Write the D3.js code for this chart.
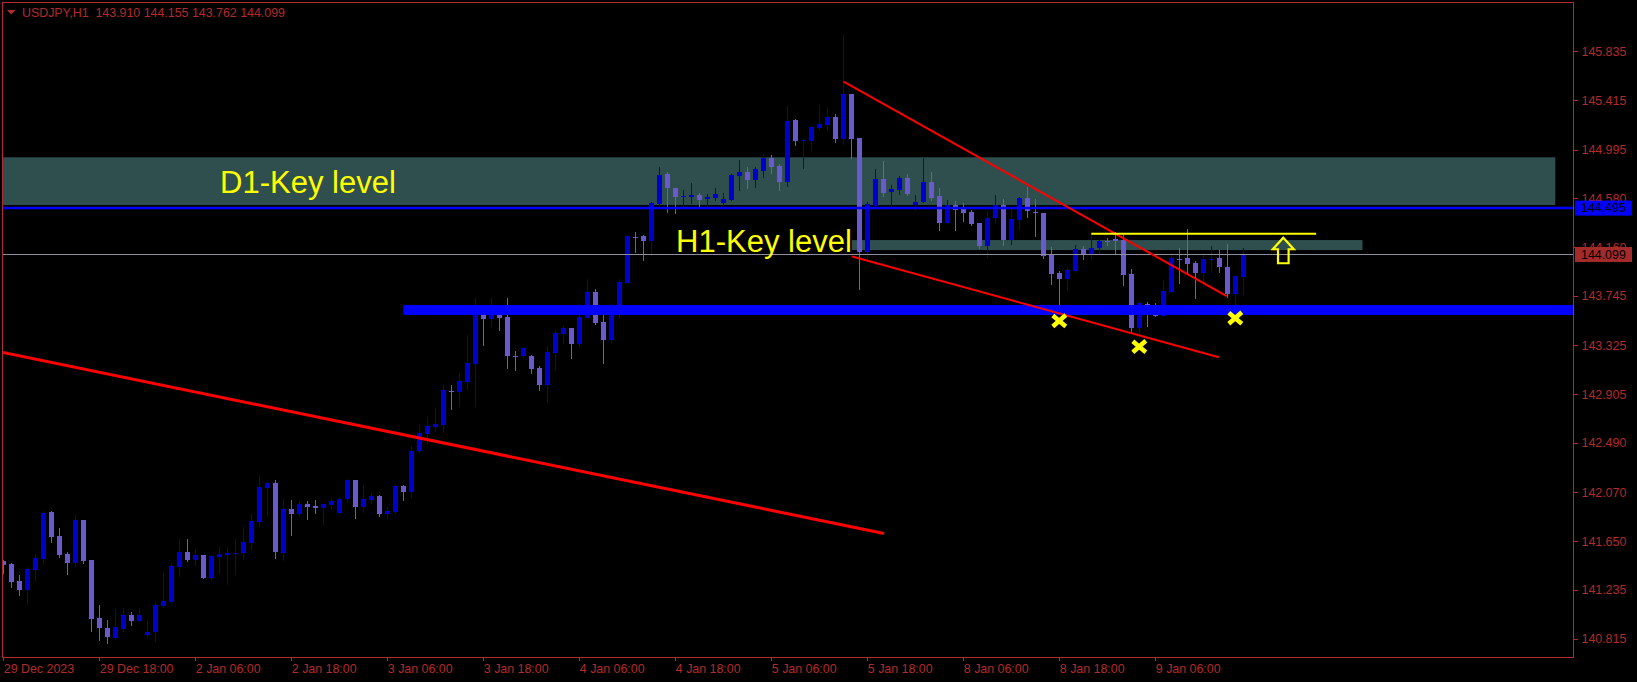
<!DOCTYPE html>
<html><head><meta charset="utf-8">
<script src="https://cdn.jsdelivr.net/npm/d3@7"></script>
<style>html,body{margin:0;padding:0;background:#000;overflow:hidden}</style>
</head><body><svg id="c" width="1637" height="682"></svg>
<script>
// ---- DATA (USDJPY H1, bars 29 Dec 2023 06:00 .. 9 Jan 2024 17:00) ----
const openV=[141.481,141.455,141.310,141.233,141.407,141.498,141.900,141.695,141.541,141.464,
141.831,141.490,140.994,140.909,140.823,140.900,141.020,140.969,140.849,140.875,
141.097,141.131,141.430,141.558,141.490,141.532,141.336,141.515,141.532,141.546,
141.549,141.635,141.814,142.104,142.147,141.549,141.925,141.882,141.968,141.951,
141.934,141.959,141.891,142.010,142.173,141.942,142.002,142.036,141.882,141.900,
142.122,142.070,142.420,142.568,142.625,142.643,142.933,142.927,143.010,143.164,
143.599,143.548,143.608,143.565,143.236,143.232,143.232,143.129,142.984,143.257,
143.420,143.471,143.334,143.556,143.778,143.522,143.368,143.582,143.858,144.252,
144.257,144.216,144.530,144.786,144.667,144.598,144.592,144.609,144.575,144.584,
144.541,144.564,144.771,144.803,144.737,144.814,144.923,144.854,144.718,145.247,
145.076,145.068,145.179,145.205,145.273,145.085,145.469,145.094,144.123,144.516,
144.743,144.630,144.649,144.752,144.524,144.547,144.718,144.598,144.368,144.521,
144.487,144.462,144.368,144.171,144.413,144.521,144.222,144.393,144.581,144.462,
144.453,144.094,143.941,143.889,143.958,144.146,144.094,144.154,144.210,144.231,
144.222,143.932,143.471,143.676,143.625,143.573,143.778,144.063,144.069,144.026,
143.941,144.058,144.069,143.992,143.761,143.910];
const highV=[141.490,141.467,141.362,141.432,141.541,141.908,141.908,141.763,141.558,141.874,
141.831,141.490,141.105,140.977,141.071,141.080,141.046,141.080,140.969,141.131,
141.379,141.455,141.669,141.669,141.584,141.532,141.532,141.601,141.592,141.669,
141.771,141.882,142.207,142.156,142.173,142.010,142.002,141.993,141.993,142.002,
141.968,142.019,142.028,142.181,142.173,142.130,142.062,142.045,141.942,142.130,
142.130,142.463,142.643,142.711,142.788,142.984,142.984,143.087,143.411,143.727,
143.599,143.727,143.667,143.727,143.275,143.300,143.240,143.146,143.317,143.454,
143.488,143.471,143.582,143.889,143.804,143.582,143.633,143.889,144.265,144.293,
144.265,144.549,144.846,144.803,144.667,144.649,144.709,144.626,144.618,144.667,
144.624,144.786,144.906,144.846,144.846,144.957,144.948,144.871,145.367,145.256,
145.085,145.196,145.375,145.350,145.299,145.973,145.469,145.094,144.547,144.829,
144.897,144.692,144.769,144.786,144.607,144.923,144.803,144.667,144.564,144.556,
144.538,144.479,144.368,144.470,144.607,144.573,144.487,144.590,144.675,144.573,
144.453,144.163,143.958,143.992,144.180,144.171,144.274,144.231,144.240,144.291,
144.265,143.975,143.701,143.693,143.684,143.881,144.103,144.154,144.316,144.043,
144.094,144.171,144.137,144.188,143.915,144.155];
const lowV=[141.379,141.259,141.191,141.122,141.319,141.467,141.646,141.518,141.370,141.441,
141.464,140.883,140.806,140.781,140.823,140.883,140.934,140.969,140.832,140.798,
141.088,141.131,141.353,141.481,141.447,141.336,141.328,141.379,141.285,141.370,
141.498,141.584,141.780,141.874,141.507,141.490,141.703,141.874,141.840,141.891,
141.797,141.934,141.891,141.993,141.848,141.900,141.976,141.865,141.848,141.891,
142.002,142.028,142.412,142.489,142.591,142.583,142.779,142.807,142.950,142.807,
143.326,143.488,143.454,143.129,143.112,143.223,143.087,142.941,142.839,143.112,
143.343,143.215,143.317,143.556,143.505,143.172,143.351,143.556,143.855,144.123,
144.052,144.094,144.521,144.464,144.455,144.507,144.541,144.507,144.507,144.567,
144.521,144.564,144.649,144.667,144.678,144.763,144.795,144.649,144.686,145.036,
144.840,144.991,145.170,145.162,145.062,145.045,144.925,143.804,144.052,144.516,
144.598,144.498,144.615,144.607,144.479,144.547,144.564,144.308,144.368,144.308,
144.385,144.350,144.154,144.077,144.370,144.180,144.188,144.316,144.419,144.257,
144.069,143.847,143.650,143.795,143.949,144.060,144.060,144.103,144.180,144.103,
143.838,143.439,143.411,143.488,143.573,143.573,143.778,143.855,143.941,143.727,
143.838,143.966,143.949,143.736,143.667,143.762];
const closeV=[141.447,141.302,141.233,141.413,141.507,141.891,141.686,141.532,141.464,141.831,
141.481,140.986,140.909,140.832,140.917,141.020,140.969,141.020,140.875,141.105,
141.139,141.438,141.558,141.490,141.532,141.336,141.524,141.541,141.549,141.547,
141.643,141.823,142.113,142.147,141.558,141.925,141.882,141.968,141.942,141.934,
141.968,141.993,142.010,142.173,141.942,142.010,142.036,141.882,141.908,142.122,
142.070,142.420,142.574,142.634,142.654,142.941,142.929,143.018,143.172,143.590,
143.548,143.599,143.556,143.232,143.227,143.300,143.121,142.984,143.266,143.428,
143.471,143.334,143.565,143.778,143.514,143.368,143.590,143.864,144.257,144.248,
144.216,144.541,144.777,144.669,144.592,144.599,144.609,144.567,144.590,144.618,
144.573,144.777,144.803,144.737,144.829,144.923,144.848,144.718,145.239,145.070,
145.077,145.187,145.213,145.273,145.085,145.469,145.085,144.123,144.530,144.743,
144.624,144.658,144.752,144.615,144.547,144.718,144.581,144.368,144.521,144.479,
144.453,144.359,144.171,144.410,144.521,144.222,144.402,144.581,144.470,144.457,
144.086,143.932,143.889,143.966,144.146,144.094,144.154,144.214,144.205,144.214,
143.924,143.471,143.684,143.616,143.573,143.787,144.069,144.058,144.017,143.941,
144.060,144.063,143.992,143.761,143.915,144.099];

const xTickIdx=[0,12,24,36,48,60,72,84,96,108,120,132,144];
const xTickLabels=["29 Dec 2023","29 Dec 18:00","2 Jan 06:00","2 Jan 18:00","3 Jan 06:00","3 Jan 18:00","4 Jan 06:00","4 Jan 18:00","5 Jan 06:00","5 Jan 18:00","8 Jan 06:00","8 Jan 18:00","9 Jan 06:00"];
const yTickValues=[145.835,145.415,144.995,144.580,144.160,143.745,143.325,142.905,142.490,142.070,141.650,141.235,140.815];
const titleText="USDJPY,H1  143.910 144.155 143.762 144.099";

// annotation objects (bar index / price)
const zoneD1=[-2,194,144.929,144.521];
const zoneH1=[106.05,169.9,144.222,144.137];
const blueLevel=144.495;
const blueBand=[50,200,143.625];
const bidPrice=144.099;
const redLines=[[-2,143.29,110.09,141.716,3],[105.04,145.576,152.92,143.744,2],[106.1,144.082,151.94,143.221,2]];
const yellowLine=[136.0,164.1,144.276];
const crossMarks=[[132,143.531],[142,143.311],[154,143.554]];
const arrowMark=[160,144.242];
const textLabels=[["D1-Key level",27.1,144.626],["H1-Key level",84.1,144.123]];

// ---- DRAW ----
const RED="#b52a2a", BULL="#0000cd", BEAR="#6a5acd";
const svg=d3.select("#c");
svg.append("rect").attr("width",1637).attr("height",682).attr("fill","#000");
const L=2.5,R=1573.5,T=2.5,B=657.5;
const x=d3.scaleLinear().domain([0,155]).range([3.3,1243.3]);
const y=d3.scaleLinear().domain([140.815,145.835]).range([639,51.2]);

svg.append("clipPath").attr("id","clip").append("rect").attr("x",L).attr("y",T).attr("width",R-L).attr("height",B-T);
const g=svg.append("g").attr("clip-path","url(#clip)");

// zones (background)
[zoneD1,zoneH1].forEach(z=>{
  g.append("rect").attr("x",x(z[0])).attr("width",x(z[1])-x(z[0]))
   .attr("y",y(z[2])).attr("height",y(z[3])-y(z[2])).attr("fill","#2f4f4f");
});

// candles
const bars=d3.range(openV.length).map(i=>({i,o:openV[i],h:highV[i],l:lowV[i],c:closeV[i]}));
const cg=g.append("g").attr("shape-rendering","crispEdges");
bars.forEach(d=>{
  const col=d.c>d.o?BULL:BEAR;
  const cx=Math.round(x(d.i));
  cg.append("line").attr("x1",cx+0.5).attr("x2",cx+0.5).attr("y1",Math.round(y(d.h))).attr("y2",Math.round(y(d.l))+1).attr("stroke",col).attr("stroke-width",1);
  const top=Math.round(y(Math.max(d.o,d.c))), bot=Math.round(y(Math.min(d.o,d.c)));
  cg.append("rect").attr("x",cx-2).attr("width",5).attr("y",top).attr("height",Math.max(1,bot-top)).attr("fill",col);
});

// horizontal levels
g.append("line").attr("x1",L).attr("x2",R).attr("y1",y(blueLevel)).attr("y2",y(blueLevel)).attr("stroke","#0000ff").attr("stroke-width",2.5);
g.append("line").attr("x1",x(blueBand[0])).attr("x2",x(blueBand[1])).attr("y1",y(blueBand[2])).attr("y2",y(blueBand[2])).attr("stroke","#0000ff").attr("stroke-width",10);
g.append("line").attr("x1",L).attr("x2",R).attr("y1",Math.round(y(bidPrice))+0.5).attr("y2",Math.round(y(bidPrice))+0.5).attr("stroke","#8e8e9e").attr("stroke-width",1);

// trend lines
redLines.forEach(r=>{
  g.append("line").attr("x1",x(r[0])).attr("y1",y(r[1])).attr("x2",x(r[2])).attr("y2",y(r[3])).attr("stroke","#ff0000").attr("stroke-width",r[4]);
});
g.append("line").attr("x1",x(yellowLine[0])).attr("x2",x(yellowLine[1])).attr("y1",y(yellowLine[2])).attr("y2",y(yellowLine[2])).attr("stroke","#ffff00").attr("stroke-width",2);

// text labels
textLabels.forEach(t=>{
  g.append("text").attr("x",x(t[1])).attr("y",y(t[2])).text(t[0])
   .attr("font-family","Liberation Sans, Arial, sans-serif").attr("font-size","31px").attr("fill","#ffff00");
});

// cross marks
crossMarks.forEach(m=>{
  g.append("path").attr("transform",`translate(${x(m[0])},${y(m[1])})`)
   .attr("d","M-6.5,-5.5L6.5,5.5M6.5,-6L-6.5,5.5").attr("stroke","#ffff00").attr("stroke-width",4.5).attr("fill","none");
});
// arrow
g.append("path").attr("transform",`translate(${x(arrowMark[0])},${y(arrowMark[1])})`)
 .attr("d","M0,0L10.5,11.5L5.3,11.5L5.3,25.5L-5.3,25.5L-5.3,11.5L-10.5,11.5Z")
 .attr("fill","none").attr("stroke","#ffff00").attr("stroke-width",2.2);

// axes
const fontF="Liberation Sans, Arial, sans-serif";
const ya=svg.append("g").attr("transform",`translate(${R},0)`)
  .call(d3.axisRight(y).tickValues(yTickValues).tickFormat(d3.format(".3f")).tickSize(4).tickPadding(4));
const xa=svg.append("g").attr("transform",`translate(0,${B})`)
  .call(d3.axisBottom(x).tickValues(xTickIdx).tickFormat((d,i)=>xTickLabels[i]).tickSize(3).tickPadding(3.5));
[ya,xa].forEach(a=>{
  a.select(".domain").remove();
  a.selectAll("line").attr("stroke",RED).attr("shape-rendering","crispEdges");
  a.selectAll("text").attr("fill",RED).attr("font-family",fontF).attr("font-size","12.4px");
});
xa.selectAll("text").attr("text-anchor","start");

// border
svg.append("rect").attr("x",L).attr("y",T).attr("width",R-L).attr("height",B-T).attr("fill","none").attr("stroke",RED).attr("stroke-width",1);

// price label boxes
[[blueLevel,"#0000ff"],[bidPrice,"#a52a2a"]].forEach(p=>{
  const yy=y(p[0]);
  svg.append("rect").attr("x",1575).attr("y",yy-7.5).attr("width",57).attr("height",15).attr("fill",p[1]);
  svg.append("text").attr("x",1581).attr("y",yy).attr("dy","0.35em").text(d3.format(".3f")(p[0]))
    .attr("fill","#000").attr("font-family",fontF).attr("font-size","12.4px");
});

// title
svg.append("path").attr("d","M7,10L15.5,10L11.25,14.5Z").attr("fill",RED);
svg.append("text").attr("x",22).attr("y",17).text(titleText).attr("fill",RED)
  .attr("font-family",fontF).attr("font-size","12.4px").attr("xml:space","preserve").style("white-space","pre");
</script></body></html>
